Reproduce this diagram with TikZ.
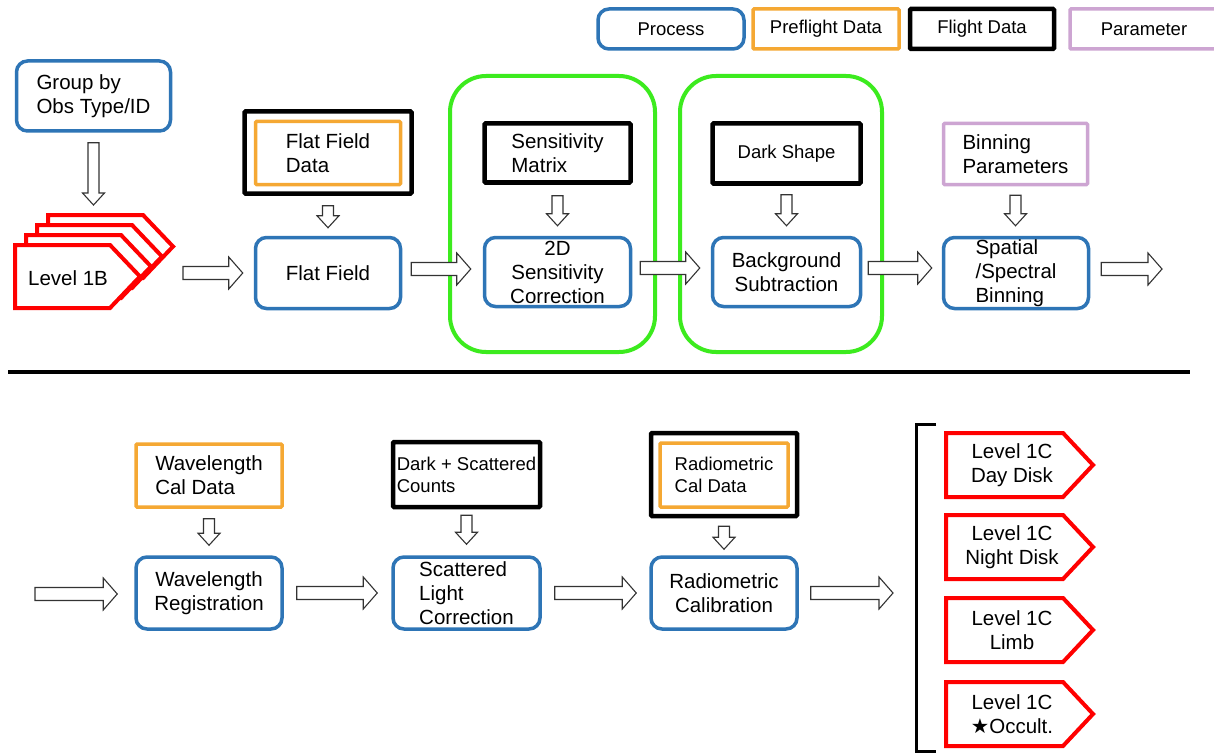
\documentclass[tikz,border=0pt]{standalone}
\usepackage{fontspec}
\setmainfont{Liberation Sans}
\newfontfamily\starfont{DejaVu Sans}
\usetikzlibrary{calc}

\definecolor{procblue}{RGB}{46,117,182}
\definecolor{preorange}{RGB}{245,168,51}
\definecolor{paramlav}{RGB}{205,165,210}
\definecolor{groupgreen}{RGB}{60,235,30}
\definecolor{levelred}{RGB}{255,0,0}

%% hollow block arrows between two points
\newcommand{\blockright}[2]{%
  \draw[blockarrow] let \p1=#1, \p2=#2 in
    (\x1,\y1+6.5pt) -- (\x2-14pt,\y1+6.5pt) -- (\x2-14pt,\y1+16pt) -- (\x2,\y1)
    -- (\x2-14pt,\y1-16pt) -- (\x2-14pt,\y1-6.5pt) -- (\x1,\y1-6.5pt) -- cycle;}
\newcommand{\blockdown}[2]{%
  \draw[blockarrow] let \p1=#1, \p2=#2 in
    (\x1-5.5pt,\y1) -- (\x1-5.5pt,\y2+12pt) -- (\x1-11pt,\y2+12pt) -- (\x1,\y2)
    -- (\x1+11pt,\y2+12pt) -- (\x1+5.5pt,\y2+12pt) -- (\x1+5.5pt,\y1) -- cycle;}
%% data level tag: left, top, width, height
\newcommand{\tagshape}[4]{%
  \draw[tagline] (#1,#2) -- ++(#3-30,0) -- ++(30,#4/2) -- ++(-30,#4/2) -- ++(30-#3,0) -- cycle;}

\begin{document}
\begin{tikzpicture}[x=1pt, y=-1pt,
  every node/.style={font=\fontsize{20.5}{24}\selectfont, inner sep=0pt},
  small/.style={font=\fontsize{18.5}{22}\selectfont},
  process/.style={draw=procblue, line width=3.5pt, rounded corners=11pt, fill=white, align=center},
  preflight/.style={draw=preorange, line width=3.5pt, rounded corners=1pt, fill=white, align=left},
  flight/.style={draw=black, line width=4.5pt, rounded corners=1pt, fill=white, align=left},
  param/.style={draw=paramlav, line width=3.5pt, rounded corners=1pt, fill=white, align=left},
  groupline/.style={draw=groupgreen, line width=4pt, rounded corners=36pt},
  tagline/.style={draw=levelred, line width=4pt, fill=white, line join=miter},
  blockarrow/.style={draw=black!80, line width=1.1pt, fill=white, line join=miter}]

\fill[white] (0,0) rectangle (1214,754);
\useasboundingbox (0,0) rectangle (1214,754);

%% ---- Legend ----
\node[process, small, minimum width=146, minimum height=40] (lgproc) at (671,29) {Process};
\node[preflight, small, minimum width=146, minimum height=40] (lgpre) at (826,29) {Preflight Data};
\node[flight, small, minimum width=144, minimum height=40] (lgflight) at (982,29) {Flight Data};
\node[param, small, minimum width=148, minimum height=40] (lgparam) at (1144,29) {Parameter};

%% ---- Top row ----
\node[process, align=left, minimum width=154, minimum height=70] (group) at (93.5,96) {Group by\\Obs Type/ID};

% Level 1B stack
\foreach \i in {3,2,1,0} {\tagshape{15+11*\i}{245-10*\i}{125}{63}}
\node (l1b) at (68,278) {Level 1B};
\coordinate (l1btop) at (89,205);
\coordinate (l1bout) at (183,273);

\node[flight, minimum width=167, minimum height=82] (ffout) at (328,152.5) {};
\node[preflight, minimum width=145, minimum height=63] (ffdata) at (328,153) {Flat Field\\Data};
\node[process, minimum width=145, minimum height=71] (flat) at (328,273) {Flat Field};

\draw[groupline] (450,76) rectangle (655,352);
\node[flight, minimum width=146, minimum height=59] (sensmat) at (557.5,153) {Sensitivity\\Matrix};
\node[process, minimum width=146, minimum height=69] (sens2d) at (557.5,272) {2D\\Sensitivity\\Correction};

\draw[groupline] (680,76) rectangle (882,352);
\node[flight, small, minimum width=148, minimum height=60] (dark) at (786.5,153.5) {Dark Shape};
\node[process, minimum width=148, minimum height=69] (bgsub) at (786.5,272) {Background\\Subtraction};

\node[param, minimum width=144, minimum height=61] (binpar) at (1015.5,154) {Binning\\Parameters};
\node[process, align=left, minimum width=145, minimum height=71] (binning) at (1016,273) {Spatial\\/Spectral\\Binning};
\coordinate (topout) at (1162,269);

\blockdown{([yshift=-10pt]group.south)}{(l1btop)}
\blockdown{([yshift=-10pt]ffout.south)}{([yshift=8pt]flat.north)}
\blockdown{([yshift=-11pt]sensmat.south)}{([yshift=10pt]sens2d.north)}
\blockdown{([yshift=-9pt]dark.south)}{([yshift=10pt]bgsub.north)}
\blockdown{([yshift=-9pt]binpar.south)}{([yshift=10pt]binning.north)}

\blockright{(l1bout)}{([xshift=-11pt]flat.west)}
\blockright{([xshift=9pt,yshift=4pt]flat.east)}{([xshift=-12pt,yshift=4pt]sens2d.west)}
\blockright{([xshift=8pt,yshift=4pt]sens2d.east)}{([xshift=-11pt,yshift=4pt]bgsub.west)}
\blockright{([xshift=6pt,yshift=4pt]bgsub.east)}{([xshift=-10pt,yshift=4pt]binning.west)}
\blockright{([xshift=11pt,yshift=4pt]binning.east)}{(topout)}

%% ---- Divider ----
\draw[line width=4pt] (8,372) -- (1190,372);

%% ---- Bottom row ----
\coordinate (botin) at (35,594);
\node[preflight, minimum width=146, minimum height=63] (wlcal) at (209,475.5) {Wavelength\\Cal Data};
\node[process, minimum width=146, minimum height=72] (wlreg) at (209,593) {Wavelength\\Registration};

\node[flight, small, minimum width=147, minimum height=65] (dscnt) at (466.5,474.5) {Dark + Scattered\\Counts};
\node[process, align=left, minimum width=147, minimum height=72] (scatt) at (466.5,593) {Scattered\\Light\\Correction};

\node[flight, minimum width=146, minimum height=83] (radout) at (724,474.5) {};
\node[preflight, small, minimum width=128, minimum height=64] (radin) at (724,475) {Radiometric\\Cal Data};
\node[process, minimum width=146, minimum height=72] (radcal) at (724,593) {Radiometric\\Calibration};
\coordinate (botout) at (893,594);

\blockdown{([yshift=-10pt]wlcal.south)}{([yshift=10pt]wlreg.north)}
\blockdown{([yshift=-6pt]dscnt.south)}{([yshift=11pt]scatt.north)}
\blockdown{([yshift=-8pt]radout.south)}{([yshift=6pt]radcal.north)}

\blockright{(botin)}{([xshift=-17pt]wlreg.west)}
\blockright{([xshift=13pt]wlreg.east)}{([xshift=-14pt]scatt.west)}
\blockright{([xshift=13pt]scatt.east)}{([xshift=-13pt]radcal.west)}
\blockright{([xshift=12pt]radcal.east)}{(botout)}

%% ---- Level 1C products ----
\draw[line width=3pt] (936,424) -- (916,424) -- (916,751) -- (936,751);
\foreach \t/\n/\txt in {433/day/{Level 1C\\Day Disk}, 515/night/{Level 1C\\Night Disk},
    598/limb/{Level 1C\\Limb}, 682/occ/{Level 1C\\{\starfont ★}Occult.}} {
  \tagshape{946}{\t}{147}{64}
  \node[align=center] (lc\n) at (1012,\t+32) {\txt};
}

\end{tikzpicture}
\end{document}
